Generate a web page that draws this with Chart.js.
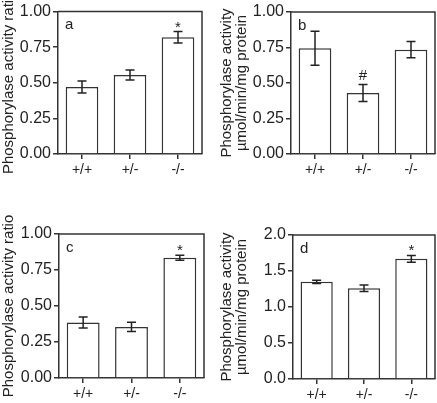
<!DOCTYPE html>
<html><head><meta charset="utf-8">
<script src="https://cdn.jsdelivr.net/npm/chart.js@4.4.1/dist/chart.umd.min.js"></script>
<style>
html,body{margin:0;padding:0;background:#fff;width:437px;height:403px;overflow:hidden}
canvas{position:absolute;display:block}
</style></head><body>
<canvas id="ca" width="218" height="201" style="left:0;top:0"></canvas>
<canvas id="cb" width="219" height="201" style="left:218px;top:0"></canvas>
<canvas id="cc" width="218" height="202" style="left:0;top:201px"></canvas>
<canvas id="cd" width="219" height="202" style="left:218px;top:201px"></canvas>
<script>
const categories = ['+/+', '+/-', '-/-'];

const valuesA = [0.47, 0.555, 0.82];
const errorsA = [0.042, 0.035, 0.04];
const marksA = ['', '', '*'];

const valuesB = [0.745, 0.43, 0.735];
const errorsB = [0.12, 0.06, 0.058];
const marksB = ['', '#', ''];

const valuesC = [0.385, 0.355, 0.835];
const errorsC = [0.038, 0.032, 0.018];
const marksC = ['', '', '*'];

const valuesD = [1.35, 1.262, 1.67];
const errorsD = [0.022, 0.045, 0.047];
const marksD = ['', '', '*'];

const ticksRatio = [0, 0.25, 0.5, 0.75, 1.0];
const ticksActivity = [0, 0.5, 1.0, 1.5, 2.0];

const titleRatio = 'Phosphorylase activity ratio';
const titleActivity = ['Phosphorylase activity', 'µmol/min/mg protein'];

const FONT = "'Liberation Sans', Arial, Helvetica, sans-serif";
const INK = '#222';
const LINE = '#333';

const extras = {
  id: 'extras',
  afterDatasetsDraw(chart, args, opts) {
    const {ctx, chartArea: a, scales: {y}} = chart;
    const meta = chart.getDatasetMeta(0);
    const data = chart.data.datasets[0].data;
    ctx.save();
    ctx.strokeStyle = LINE;
    ctx.lineWidth = 1.5;
    ctx.beginPath();
    ctx.moveTo(a.left, a.top);
    ctx.lineTo(a.right, a.top);
    ctx.lineTo(a.right, a.bottom);
    ctx.stroke();
    ctx.strokeStyle = '#222';
    ctx.lineWidth = 1.5;
    const cap = 4.5;
    data.forEach((v, i) => {
      const e = opts.errors[i];
      const cx = meta.data[i].x;
      const yt = y.getPixelForValue(v + e);
      const yb = y.getPixelForValue(v - e);
      ctx.beginPath();
      ctx.moveTo(cx, yt); ctx.lineTo(cx, yb);
      ctx.moveTo(cx - cap, yt); ctx.lineTo(cx + cap, yt);
      ctx.moveTo(cx - cap, yb); ctx.lineTo(cx + cap, yb);
      ctx.stroke();
      const m = opts.marks[i];
      if (m) {
        ctx.fillStyle = INK;
        ctx.font = '15px ' + FONT;
        ctx.textAlign = 'center';
        ctx.textBaseline = 'alphabetic';
        ctx.fillText(m, cx, yt - (m === '*' ? 0 : 4));
      }
    });
    ctx.fillStyle = INK;
    ctx.font = '15px ' + FONT;
    ctx.textAlign = 'left';
    ctx.textBaseline = 'top';
    ctx.fillText(opts.letter, a.left + 7, a.top + 6);
    ctx.restore();
  }
};

function makeChart(id, values, errors, marks, letter, tickVals, decimals, title, box) {
  const [padLeft, padTop, padRight, yWidth, xHeight] = box;
  return new Chart(document.getElementById(id), {
    type: 'bar',
    data: {
      labels: categories,
      datasets: [{
        data: values,
        backgroundColor: '#fff',
        borderColor: LINE,
        borderWidth: 1.5,
        barPercentage: 1.0,
        categoryPercentage: 0.68
      }]
    },
    options: {
      responsive: false,
      animation: false,
      devicePixelRatio: 1,
      layout: {padding: {left: padLeft, top: padTop, right: padRight, bottom: 0}},
      plugins: {
        legend: {display: false},
        tooltip: {enabled: false},
        extras: {errors: errors, marks: marks, letter: letter}
      },
      scales: {
        x: {
          grid: {display: true, drawOnChartArea: false, drawTicks: true, tickLength: 5, offset: false, color: LINE, lineWidth: 1.5},
          border: {display: true, color: LINE, width: 1.5},
          ticks: {color: INK, font: {family: FONT, size: 14}, padding: 3, maxRotation: 0},
          afterFit: s => { s.height = xHeight; }
        },
        y: {
          min: tickVals[0],
          max: tickVals[tickVals.length - 1],
          afterBuildTicks: s => { s.ticks = tickVals.map(v => ({value: v})); },
          grid: {display: true, drawOnChartArea: false, drawTicks: true, tickLength: 5, color: LINE, lineWidth: 1.5},
          border: {display: true, color: LINE, width: 1.5},
          ticks: {color: INK, font: {family: FONT, size: 16}, padding: 2, callback: v => Number(v).toFixed(decimals)},
          title: {display: true, text: title, color: INK, font: {family: FONT, size: 15, lineHeight: 1.0}, padding: {top: 1, bottom: 0}},
          afterFit: s => { s.width = yWidth; }
        }
      }
    },
    plugins: [extras]
  });
}

makeChart('ca', valuesA, errorsA, marksA, 'a', ticksRatio, 2, titleRatio, [0, 10, 16, 58, 47]);
makeChart('cb', valuesB, errorsB, marksB, 'b', ticksRatio, 2, titleActivity, [0, 12, 2, 73, 47]);
makeChart('cc', valuesC, errorsC, marksC, 'c', ticksRatio, 2, titleRatio, [0, 33, 14, 59, 25]);
makeChart('cd', valuesD, errorsD, marksD, 'd', ticksActivity, 1, titleActivity, [0, 34, 2, 75, 24]);
</script>
</body></html>
